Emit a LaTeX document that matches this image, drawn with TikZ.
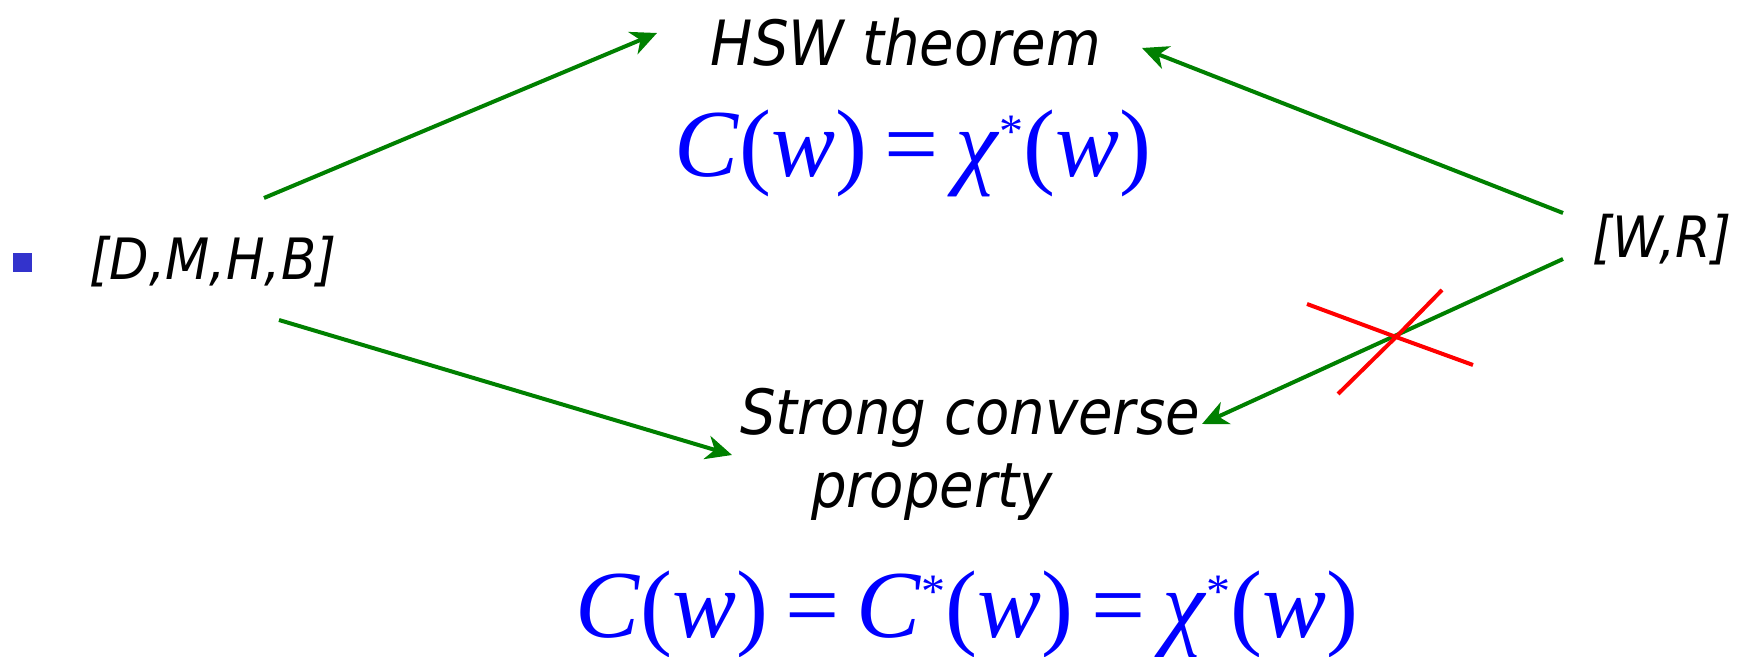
\documentclass[tikz,border=0pt]{standalone}
\usepackage{fontspec}
\usetikzlibrary{arrows.meta}

\newfontfamily\lblfont{DejaVu Sans}[FakeStretch=0.9]
\newfontfamily\eqfont{Liberation Serif}
\definecolor{arrowgreen}{RGB}{0,128,0}
\definecolor{eqblue}{RGB}{0,0,255}
\definecolor{bulletblue}{RGB}{51,51,204}
\definecolor{crossred}{RGB}{255,0,0}
\newcommand{\stx}{{\fontsize{24}{24}\selectfont\raisebox{0.62em}{*}}}
\newcommand{\eqsign}{\hspace{0.18em}=\hspace{0.18em}}

\begin{document}
\begin{tikzpicture}[x=0.5pt, y=-0.5pt,
    lbl/.style={font=\lblfont\itshape\fontsize{31.2}{36}\selectfont, inner sep=0pt, anchor=base},
    brk/.style={font=\lblfont\itshape\fontsize{28.5}{34}\selectfont, inner sep=0pt, anchor=base},
    eqn/.style={font=\eqfont\fontsize{48}{56}\selectfont, text=eqblue, inner sep=0pt, anchor=base},
    flow/.style={-{Stealth[length=13pt, width=12pt, inset=4pt]}, arrowgreen, line width=2pt},
    cross/.style={crossred, line width=2pt}]
    \useasboundingbox (0,0) rectangle (1750,657);

    % Punto elenco e canali
    \node[fill=bulletblue, minimum size=9.5pt, inner sep=0pt] (bul) at (22.5,262.5) {};
    \node[brk] (dmhb) at (213,280) {[D,M,H,B]};
    \node[brk] (wr) at (1662,258) {[W,R]};

    % Risultati
    \node[lbl] (hsw) at (906,66) {HSW theorem};
    \node[eqn] (topeq) at (913,177) {\textit{C}(\textit{w})\eqsign\textit{χ}\stx(\textit{w})};
    \node[lbl] (scp) at (970,435) {Strong converse};
    \node[lbl] (prop) at (932,507) {property};
    \node[eqn] (boteq) at (967,637) {\textit{C}(\textit{w})\eqsign\textit{C}\stx(\textit{w})\eqsign\textit{χ}\stx(\textit{w})};

    % Estremi delle frecce
    \coordinate (dmhb-up) at (264,198);
    \coordinate (dmhb-dn) at (279,320);
    \coordinate (wr-up) at (1563,213);
    \coordinate (wr-dn) at (1563,259);
    \coordinate (hsw-l) at (657,33);
    \coordinate (hsw-r) at (1142,48);
    \coordinate (scp-l) at (732,455);
    \coordinate (scp-r) at (1202,424);

    % Frecce
    \draw[flow] (dmhb-up) -- (hsw-l);
    \draw[flow] (wr-up) -- (hsw-r);
    \draw[flow] (dmhb-dn) -- (scp-l);
    \draw[flow] (wr-dn) -- (scp-r);

    % Implicazione negata
    \coordinate (x) at (1396,337);
    \draw[cross] (1307,304) -- (x) -- (1473,365);
    \draw[cross] (1442,290) -- (x) -- (1338,394);
\end{tikzpicture}
\end{document}
